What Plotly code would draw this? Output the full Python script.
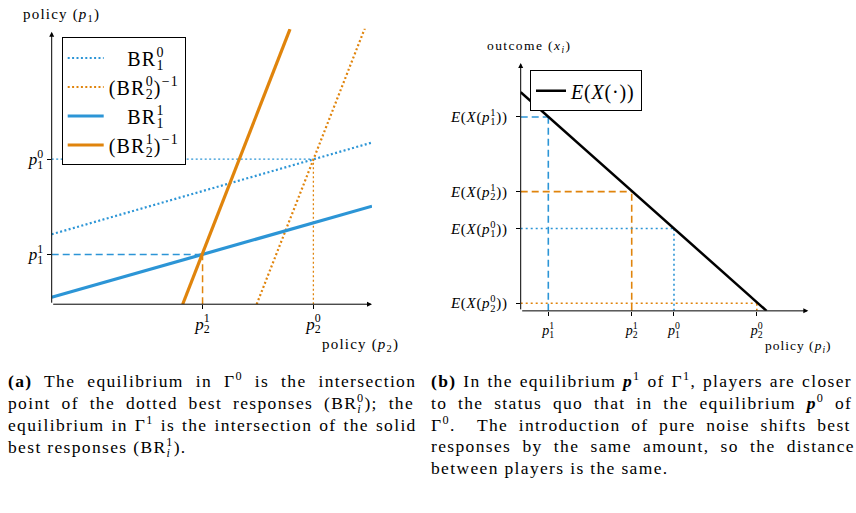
import plotly.graph_objects as go

W, H = 856, 513
BLUE = "#2C95D6"
ORANGE = "#E0840C"
FONT = "Liberation Serif"


def pij(base, sub, sup, size, subw=0.5):
    """base with stacked subscript/superscript (negative letter-spacing trick)."""
    w = round(subw * 0.7 * size, 1)
    return (f'{base}<sub><span style="letter-spacing:-{w}px">{sub}</span></sub>'
            f'<sup>{sup}</sup>')


def sp(text, ls=0.0, ws=0.0):
    return f'<span style="letter-spacing:{ls}px;word-spacing:{ws}px">{text}</span>'


# ---------------- Panel (a) data ----------------
br1_0_x = [0, 10]
br1_0_y = [2.54, 5.87]
br1_1_x = [0, 10]
br1_1_y = [0.25, 3.56]
inv_br2_0_x = [6.40, 9.78]
inv_br2_0_y = [0, 10.03]
inv_br2_1_x = [4.09, 7.44]
inv_br2_1_y = [0, 9.99]
p1_0, p2_0 = 5.27, 8.17
p1_1, p2_1 = 1.805, 4.71
a_xticks = [p2_1, p2_0]
a_xticklabels = [pij("<i>p</i>", "2", "1", 17), pij("<i>p</i>", "2", "0", 17)]
a_yticks = [p1_1, p1_0]
a_yticklabels = [pij("<i>p</i>", "1", "1", 17), pij("<i>p</i>", "1", "0", 17)]

# ---------------- Panel (b) data ----------------
ex_x = [0, 8.55]
ex_y = [8.82, 0]
b_p1_1, b_e_p1_1 = 0.96, 7.82
b_p2_1, b_e_p2_1 = 3.86, 4.81
b_p1_0, b_e_p1_0 = 5.33, 3.32
b_p2_0, b_e_p2_0 = 8.21, 0.31
b_xticks = [b_p1_1, b_p2_1, b_p1_0, b_p2_0]
b_xticklabels = [pij("<i>p</i>", "1", "1", 14), pij("<i>p</i>", "2", "1", 14),
                 pij("<i>p</i>", "1", "0", 14), pij("<i>p</i>", "2", "0", 14)]
b_yticks = [b_e_p1_1, b_e_p2_1, b_e_p1_0, b_e_p2_0]
b_yticklabels = [sp("<i>E</i>(<i>X</i>(" + pij("<i>p</i>", s, u, 15) + "))", 0.7)
                 for s, u in [("1", "1"), ("2", "1"), ("1", "0"), ("2", "0")]]

CAP = 17.5
CAP_LS = 1.35
caption_a = [
    ("<b>(a)</b> The equilibrium in Γ<sup>0</sup> is the intersection", 6.2),
    ("point of the dotted best responses (" + pij("BR", "<i>i</i>", "0", CAP, 0.3) + "); the", 5.1),
    ("equilibrium in Γ<sup>1</sup> is the intersection of the solid", 1.25),
    ("best responses (" + pij("BR", "<i>i</i>", "1", CAP, 0.3) + ").", 0.0),
]
caption_b = [
    ("<b>(b)</b> In the equilibrium <b><i>p</i></b><sup>1</sup> of Γ<sup>1</sup>, players are closer", 1.1),
    ("to the status quo that in the equilibrium <b><i>p</i></b><sup>0</sup> of", 5.0),
    ("Γ<sup>0</sup>.  The introduction of pure noise shifts best", 4.9),
    ("responses by the same amount, so the distance", 5.5),
    ("between players is the same.", 0.0),
]

fig = go.Figure()


def line(x, y, color, width, dash="solid", xa="x", ya="y", name=None, legend="legend"):
    fig.add_trace(go.Scatter(
        x=x, y=y, mode="lines", xaxis=xa, yaxis=ya,
        line=dict(color=color, width=width, dash=dash),
        name=name, showlegend=name is not None, legend=legend,
        hoverinfo="skip"))


LEG = 20
# helper reference lines (panel a)
line([0, p2_0], [p1_0, p1_0], BLUE, 1.3, "2px,2.5px")
line([p2_0, p2_0], [0, p1_0], ORANGE, 1.3, "2px,2.5px")
line([0, p2_1], [p1_1, p1_1], BLUE, 1.5, "7px,4px")
line([p2_1, p2_1], [0, p1_1], ORANGE, 1.5, "7px,4px")
# main curves (panel a)
line(br1_0_x, br1_0_y, BLUE, 2.2, "2px,2.4px",
     name=sp("\u00a0\u00a0\u00a0" + pij("BR", "1", "0", LEG), 1.2))
line(inv_br2_0_x, inv_br2_0_y, ORANGE, 2.2, "2px,2.4px",
     name=sp("(" + pij("BR", "2", "0", LEG) + ")<sup>−1</sup>", 1.2))
line(br1_1_x, br1_1_y, BLUE, 3.2,
     name=sp("\u00a0\u00a0\u00a0" + pij("BR", "1", "1", LEG), 1.2))
line(inv_br2_1_x, inv_br2_1_y, ORANGE, 3.2,
     name=sp("(" + pij("BR", "2", "1", LEG) + ")<sup>−1</sup>", 1.2))

# panel b helper lines
line([0, b_p1_1], [b_e_p1_1, b_e_p1_1], BLUE, 1.6, "7px,4px", "x2", "y2")
line([b_p1_1, b_p1_1], [0, b_e_p1_1], BLUE, 1.6, "7px,4px", "x2", "y2")
line([0, b_p2_1], [b_e_p2_1, b_e_p2_1], ORANGE, 1.6, "7px,4px", "x2", "y2")
line([b_p2_1, b_p2_1], [0, b_e_p2_1], ORANGE, 1.6, "7px,4px", "x2", "y2")
line([0, b_p1_0], [b_e_p1_0, b_e_p1_0], BLUE, 1.6, "2px,3px", "x2", "y2")
line([b_p1_0, b_p1_0], [0, b_e_p1_0], BLUE, 1.6, "2px,3px", "x2", "y2")
line([0, b_p2_0], [b_e_p2_0, b_e_p2_0], ORANGE, 1.6, "2px,3px", "x2", "y2")
line([b_p2_0, b_p2_0], [0, b_e_p2_0], ORANGE, 1.6, "2px,3px", "x2", "y2")
line(ex_x, ex_y, "black", 2.5, xa="x2", ya="y2",
     name=sp("<i>E</i>(<i>X</i>(·))", 0.8), legend="legend2")

axis_common = dict(showgrid=False, zeroline=False, showline=False,
                   ticks="outside", ticklen=4, tickcolor="black", tickwidth=1,
                   tickmode="array", fixedrange=True)

fig.update_layout(
    width=W, height=H, margin=dict(l=0, r=0, t=0, b=0),
    paper_bgcolor="white", plot_bgcolor="white",
    font=dict(family=FONT, color="black"),
    xaxis=dict(domain=[51.7 / W, 372 / W], range=[0, 10], tickvals=a_xticks,
               ticktext=a_xticklabels, tickfont=dict(size=17), **axis_common),
    yaxis=dict(domain=[1 - 306 / H, 1 - 29 / H], range=[0, 10], tickvals=a_yticks,
               ticktext=a_yticklabels, tickfont=dict(size=17), **axis_common),
    xaxis2=dict(domain=[520.7 / W, 808.3 / W], range=[0, 10], tickvals=b_xticks,
                ticktext=b_xticklabels, tickfont=dict(size=14), anchor="y2",
                ticklabelstandoff=2, **axis_common),
    yaxis2=dict(domain=[1 - 312.7 / H, 1 - 63.3 / H], range=[0, 10], tickvals=b_yticks,
                ticktext=b_yticklabels, tickfont=dict(size=15), anchor="x2",
                ticklabelstandoff=5, **axis_common),
    legend=dict(x=61.7 / W, y=1 - 37.7 / H, xanchor="left", yanchor="top",
                bordercolor="black", borderwidth=1, bgcolor="white",
                itemwidth=36, font=dict(size=LEG, family=FONT)),
    legend2=dict(x=530 / W, y=1 - 70.7 / H, xanchor="left", yanchor="top",
                 bordercolor="black", borderwidth=1, bgcolor="white",
                 font=dict(size=20, family=FONT)),
)

# axis arrows
for xa, ya, tipx, tipy in [("x", "y", 10, 0), ("x", "y", 0, 9.89),
                           ("x2", "y2", 10, 0), ("x2", "y2", 0, 10)]:
    fig.add_annotation(x=tipx, y=tipy, ax=0, ay=0, xref=xa, yref=ya, axref=xa, ayref=ya,
                       showarrow=True, arrowhead=2, arrowsize=1, arrowwidth=1,
                       arrowcolor="black", text="")


def label(text, x, y, size, xanchor="left"):
    fig.add_annotation(text=text, x=x / W, y=1 - y / H, xref="paper", yref="paper",
                       xanchor=xanchor, yanchor="middle", showarrow=False,
                       font=dict(size=size, family=FONT, color="black"))


label(sp("policy (<i>p</i><sub>1</sub>)", 1.2), 21, 15, 15)
label(sp("policy (<i>p</i><sub>2</sub>)", 1.2), 320, 347, 15)
label(sp("outcome (<i>x</i><sub><i>i</i></sub>)", 1.4), 485, 47, 13.5)
label(sp("policy (<i>p</i><sub><i>i</i></sub>)", 1.0), 763, 349, 13.5)

for i, (t, ws) in enumerate(caption_a):
    label(sp(t, CAP_LS, ws), 6, 382 + 22.2 * i, CAP)
for i, (t, ws) in enumerate(caption_b):
    label(sp(t, CAP_LS, ws), 429, 382 + 22.2 * i, CAP)

fig.write_html("out.html")
